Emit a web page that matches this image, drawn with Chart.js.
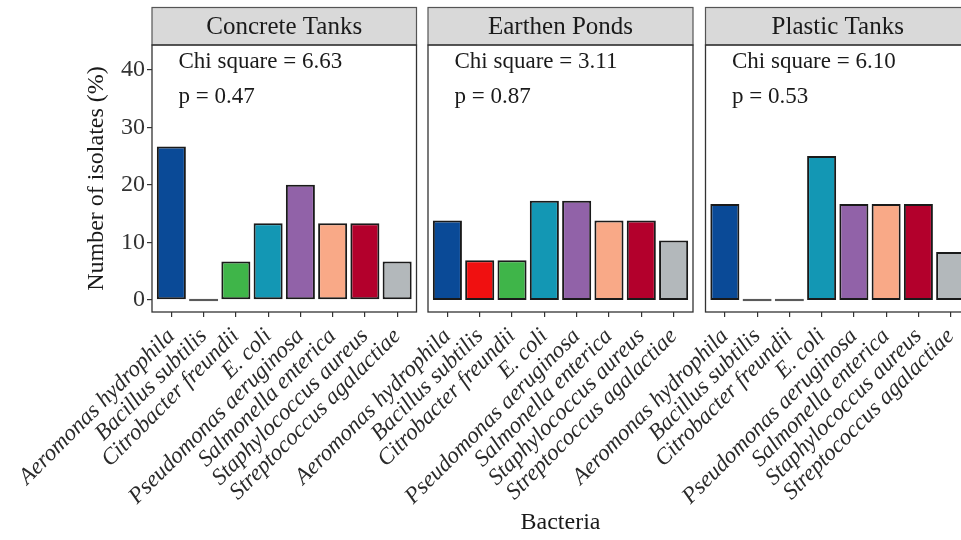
<!DOCTYPE html>
<html><head><meta charset="utf-8">
<script src="https://cdn.jsdelivr.net/npm/chart.js@4.4.1/dist/chart.umd.min.js"></script>
<style>
html,body{margin:0;padding:0;background:#fff;overflow:hidden;width:961px;height:540px}
canvas{position:absolute;left:0;top:0}
</style></head><body>
<canvas id="p0" width="1000" height="540"></canvas>
<canvas id="p1" width="1000" height="540"></canvas>
<canvas id="p2" width="1000" height="540"></canvas>
<script>
// ---- data ----
const bacteria = ["Aeromonas hydrophila","Bacillus subtilis","Citrobacter freundii","E. coli","Pseudomonas aeruginosa","Salmonella enterica","Staphylococcus aureus","Streptococcus agalactiae"];
const facets = ["Concrete Tanks","Earthen Ponds","Plastic Tanks"];
const concreteTanks = [26.67, 0, 6.67, 13.33, 20.0, 13.33, 13.33, 6.67];
const earthenPonds  = [13.79, 6.90, 6.90, 17.24, 17.24, 13.79, 13.79, 10.34];
const plasticTanks  = [16.67, 0, 0, 25.0, 16.67, 16.67, 16.67, 8.33];
const chiSquare = ["6.63","3.11","6.10"];
const pValues   = ["0.47","0.87","0.53"];
const yTicks = [0, 10, 20, 30, 40];
const barColors = ["#0a4a97","#f01010","#3fb549","#1397b4","#9162a8","#f9a987","#b3002c","#b3b8bb"];

const seriesByFacet = [concreteTanks, earthenPonds, plasticTanks];
const annX = 0.22, annY = [41.3, 35.3];

// panel horizontal placement (chart area left / right)
const areaLeft = [152, 428, 705.5];
const areaRight = [416.5, 693, 970];
const CW = 1000;

const SERIF = "'Liberation Serif','Times New Roman',serif";

const panelPlugin = {
  id: 'panel',
  afterDraw(chart, args, opts) {
    const {ctx, chartArea: a, scales} = chart;
    ctx.save();
    // strip
    ctx.fillStyle = '#d9d9d9';
    ctx.fillRect(a.left, 7.5, a.right - a.left, a.top - 7.5);
    ctx.strokeStyle = '#555';
    ctx.lineWidth = 1.2;
    ctx.strokeRect(a.left, 7.5, a.right - a.left, a.top - 7.5);
    ctx.fillStyle = '#1a1a1a';
    ctx.font = "25px " + SERIF;
    ctx.textAlign = 'center';
    ctx.textBaseline = 'middle';
    ctx.fillText(opts.title, (a.left + a.right) / 2, (7.5 + a.top) / 2 + 1);
    // panel border
    ctx.strokeStyle = '#333';
    ctx.lineWidth = 1.3;
    ctx.strokeRect(a.left, a.top, a.right - a.left, a.bottom - a.top);
    // annotations
    ctx.font = "23px " + SERIF;
    ctx.textAlign = 'left';
    ctx.fillStyle = '#1a1a1a';
    const x = scales.x.getPixelForValue(annX);
    ctx.fillText('Chi square = ' + opts.chi, x, scales.y.getPixelForValue(annY[0]));
    ctx.fillText('p = ' + opts.p, x, scales.y.getPixelForValue(annY[1]));
    ctx.restore();
  }
};

facets.forEach((name, k) => {
  const first = k === 0;
  const mid = k === 1;
  new Chart(document.getElementById('p' + k), {
    type: 'bar',
    data: {
      datasets: [{
        data: seriesByFacet[k].map((v, i) => ({x: i, y: v})),
        backgroundColor: barColors,
        borderColor: c => (c.raw && c.raw.y === 0) ? '#5a5a5a' : '#1a1a1a',
        borderWidth: 2,
        borderSkipped: false,
        minBarLength: 2.5,
        categoryPercentage: 1,
        barPercentage: 0.9
      }]
    },
    options: {
      responsive: false,
      animation: false,
      events: [],
      layout: {padding: {left: first ? 78 : areaLeft[k], right: CW - areaRight[k], top: 45, bottom: 0}},
      plugins: {legend: {display: false}, tooltip: {enabled: false}, panel: {title: name, chi: chiSquare[k], p: pValues[k]}},
      scales: {
        x: {
          type: 'linear', min: -0.6, max: 7.6, offset: false,
          afterBuildTicks: s => { s.ticks = bacteria.map((_, i) => ({value: i})); },
          afterFit: s => { s.height = 228; },
          grid: {offset: false, drawOnChartArea: false, drawTicks: true, tickLength: 5, color: '#333', lineWidth: 1.2},
          border: {display: false},
          ticks: {autoSkip: false, maxRotation: 45, minRotation: 45, padding: 6,
            font: {family: SERIF, size: 23, style: 'italic'}, color: '#2a2a2a',
            callback: v => bacteria[v]},
          title: {display: mid, text: 'Bacteria', font: {family: SERIF, size: 24}, color: '#1a1a1a', padding: {top: 0, bottom: 3}}
        },
        y: {
          display: first,
          min: -2.1, max: 44.3,
          afterBuildTicks: s => { s.ticks = yTicks.map(v => ({value: v})); },
          afterFit: s => { if (first) s.width = 74; },
          grid: {drawOnChartArea: false, drawTicks: true, tickLength: 5, color: '#333', lineWidth: 1.2},
          border: {display: false},
          ticks: {padding: 2, font: {family: SERIF, size: 24}, color: '#333'},
          title: {display: true, text: 'Number of isolates (%)', font: {family: SERIF, size: 24}, color: '#1a1a1a', padding: {top: 4, bottom: 0}}
        }
      }
    },
    plugins: [panelPlugin]
  });
});
</script>
</body></html>
